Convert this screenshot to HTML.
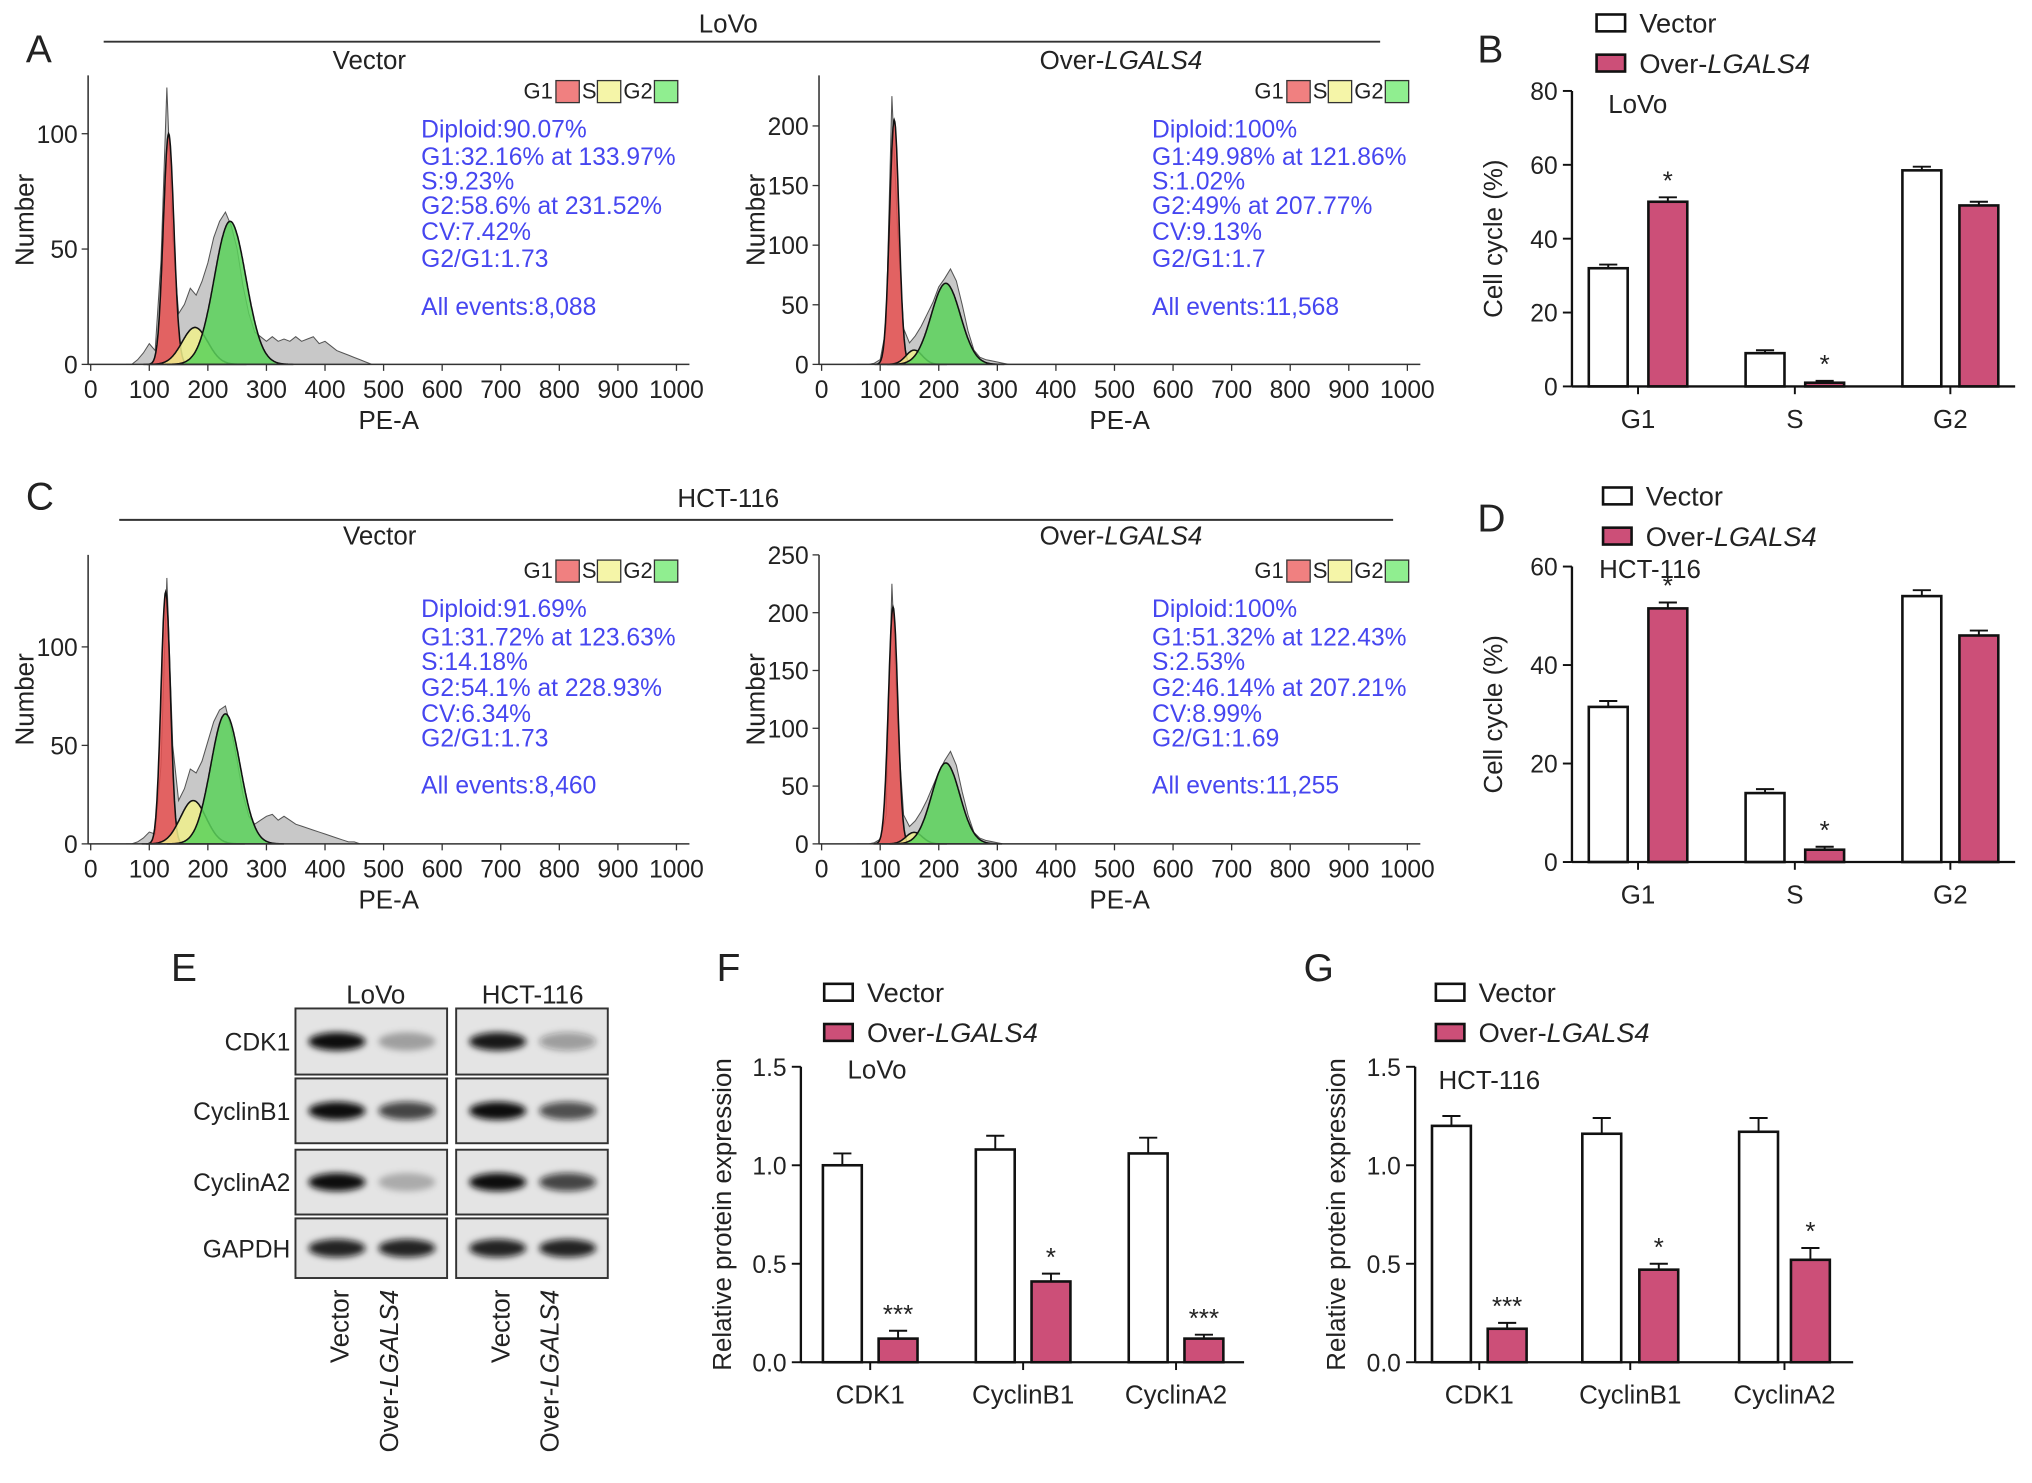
<!DOCTYPE html>
<html><head><meta charset="utf-8"><style>
html,body{margin:0;padding:0;background:#fff;}
svg{display:block;font-family:"Liberation Sans",sans-serif;}
</style></head><body>
<svg id="fig" width="2032" height="1483" viewBox="0 0 1568 1144" xmlns="http://www.w3.org/2000/svg">
<defs><filter id="blur" x="-50%" y="-50%" width="200%" height="200%"><feGaussianBlur stdDeviation="2.5"/></filter></defs>
<g id="root"></g>
</svg>
<script>
// ---------- data ----------
const histBins = [60,70,80,90,100,110,120,130,140,150,160,170,180,190,200,210,220,230,240,250,260,270,280,290,300,310,320,330,340,350,360,370,380,390,400,410,420,430,440,450,460,470,480,490,500];
const countsA1 = [0,0,2,5,9,6,45,120,55,22,26,33,30,36,44,55,62,66,60,50,34,22,14,12,10,12,10,11,10,12,10,11,12,9,10,8,6,5,4,3,2,1,0,0,0];
const countsA2 = [0,0,0,1,4,30,225,110,30,18,24,32,42,52,65,72,80,70,50,28,12,6,4,3,2,1,0,0,0,0,0,0,0,0,0,0,0,0,0,0,0,0,0,0,0];
const countsC1 = [0,0,1,3,6,5,40,135,50,22,28,38,36,42,52,62,68,70,58,42,25,14,10,12,14,15,12,14,12,10,9,8,7,6,5,4,3,2,1,1,0,0,0,0,0];
const countsC2 = [0,0,0,1,4,25,225,100,25,15,20,28,38,50,62,72,80,68,45,25,10,5,3,2,1,0,0,0,0,0,0,0,0,0,0,0,0,0,0,0,0,0,0,0,0];
const fitA1 = [[133,9,100],[178,22,16],[238,27,62]];
const fitA2 = [[124,8,205],[158,14,12],[212,25,68]];
const fitC1 = [[128,8,128],[175,22,22],[230,25,66]];
const fitC2 = [[122,8,205],[158,14,10],[212,24,70]];
const textA1 = ["Diploid:90.07%","G1:32.16% at 133.97%","S:9.23%","G2:58.6% at 231.52%","CV:7.42%","G2/G1:1.73","All events:8,088"];
const textA2 = ["Diploid:100%","G1:49.98% at 121.86%","S:1.02%","G2:49% at 207.77%","CV:9.13%","G2/G1:1.7","All events:11,568"];
const textC1 = ["Diploid:91.69%","G1:31.72% at 123.63%","S:14.18%","G2:54.1% at 228.93%","CV:6.34%","G2/G1:1.73","All events:8,460"];
const textC2 = ["Diploid:100%","G1:51.32% at 122.43%","S:2.53%","G2:46.14% at 207.21%","CV:8.99%","G2/G1:1.69","All events:11,255"];
const xTicks = [0,100,200,300,400,500,600,700,800,900,1000];

const cycleCats = ["G1","S","G2"];
const lovoVector = [32,9,58.5], lovoVectorErr=[1,0.8,1];
const lovoOver = [50,1,49], lovoOverErr=[1.2,0.5,1];
const hctVector = [31.5,14,54], hctVectorErr=[1.2,0.8,1.2];
const hctOver = [51.5,2.5,46], hctOverErr=[1.2,0.6,1];
const lovoStars = ["*","*",""];
const hctStars = ["*","*",""];
const protCats = ["CDK1","CyclinB1","CyclinA2"];
const fVector = [1.0,1.08,1.06], fVectorErr=[0.06,0.07,0.08];
const fOver = [0.12,0.41,0.12], fOverErr=[0.04,0.04,0.02];
const gVector = [1.2,1.16,1.17], gVectorErr=[0.05,0.08,0.07];
const gOver = [0.17,0.47,0.52], gOverErr=[0.03,0.03,0.06];
const fStars = ["***","*","***"], gStars = ["***","*","*"];
const blotRows = ["CDK1","CyclinB1","CyclinA2","GAPDH"];
const blotLoVo = [[1,0.3],[1,0.75],[1,0.25],[0.9,0.9]];
const blotHCT = [[0.95,0.35],[1,0.7],[1,0.75],[0.9,0.9]];

// ---------- helpers ----------
const NS="http://www.w3.org/2000/svg";
const root=document.getElementById('root');
function el(tag,attrs,parent,txt){const e=document.createElementNS(NS,tag);for(const k in attrs)e.setAttribute(k,attrs[k]);if(txt!==undefined)e.textContent=txt;(parent||root).appendChild(e);return e;}
function txt(x,y,s,size,opts,parent){opts=opts||{};const t=el('text',Object.assign({x:x,y:y,'font-size':size,fill:opts.fill||'#222','text-anchor':opts.anchor||'middle'},opts.extra||{}),parent,s);return t;}

function histogram(name,ox,oy,top,yMax,yStep,yPxPerUnit,counts,fit,lines,textY){
  const g=el('g',{});
  
  
  const xs=v=>ox+v*0.452, ys=v=>oy-v*yPxPerUnit;
  let d='M'+xs(histBins[0])+','+ys(0);
  histBins.forEach((b,i)=>{d+=' L'+xs(b)+','+ys(counts[i]);});
  d+=' L'+xs(histBins[histBins.length-1])+','+ys(0)+' Z';
  const h=el('path',{d:d,fill:'#c8c8c8',stroke:'#555','stroke-width':0.8},g);
  
  
  const cols=['rgba(230,80,80,0.85)','rgba(240,240,140,0.85)','rgba(90,210,90,0.85)'];
  const names=['g1-fit','s-fit','g2-fit'];
  fit.forEach((p,k)=>{
    let dd='M'+xs(p[0]-4*p[1])+','+ys(0);
    for(let v=p[0]-4*p[1];v<=p[0]+4*p[1];v+=1){dd+=' L'+xs(v).toFixed(1)+','+ys(p[2]*Math.exp(-0.5*((v-p[0])/p[1])**2)).toFixed(1);}
    dd+=' Z';
    const f=el('path',{d:dd,fill:cols[k],stroke:'#111','stroke-width':1.2},g);
    
    
  });
  el('line',{x1:ox-2,y1:oy,x2:ox+462,y2:oy,stroke:'#333','stroke-width':1.2},g);
  el('line',{x1:ox-2,y1:oy,x2:ox-2,y2:top,stroke:'#333','stroke-width':1.2},g);
  xTicks.forEach(t=>{el('line',{x1:xs(t),y1:oy,x2:xs(t),y2:oy+5,stroke:'#333'},g);const l=txt(xs(t),oy+26,String(t),19,{},g);});
  for(let v=0;v<=yMax;v+=yStep){el('line',{x1:ox-7,y1:ys(v),x2:ox-2,y2:ys(v),stroke:'#333'},g);const l=txt(ox-10,ys(v)+7,String(v),19,{anchor:'end'},g);}
  const xl=txt(ox+230,oy+50,'PE-A',20,{},g);
  const yl=txt(0,0,'Number',20,{extra:{transform:`translate(${ox-44},${(oy+top)/2}) rotate(-90)`}},g);
  const lg=el('g',{},g);
  const lx=ox+334, ly=top+12;
  txt(lx,ly+6,'G1',17,{anchor:'start'},lg);
  el('rect',{x:lx+25,y:ly-8,width:18,height:17,fill:'#f08080',stroke:'#333'},lg);
  txt(lx+45,ly+6,'S',17,{anchor:'start'},lg);
  el('rect',{x:lx+57,y:ly-8,width:18,height:17,fill:'#f5f5a8',stroke:'#333'},lg);
  txt(lx+77,ly+6,'G2',17,{anchor:'start'},lg);
  el('rect',{x:lx+101,y:ly-8,width:18,height:17,fill:'#90ee90',stroke:'#333'},lg);
  const st=el('g',{},g);
  lines.forEach((s,i)=>txt(ox+255,textY[i],s,19,{anchor:'start',fill:'#4646f0'},st));
}

function barChart(name,ox,oy,pxPerUnit,yMax,yStep,xEnd,cats,centersV,centersO,vv,ve,ov,oe,stars,yTitle,decimals){
  const g=el('g',{});
  
  
  const ys=v=>oy-v*pxPerUnit;
  const bw=30;
  cats.forEach((c,i)=>{
    [[centersV[i],vv[i],ve[i],'#fff','vector'],[centersO[i],ov[i],oe[i],'#cc4f78','over']].forEach(b=>{
      el('line',{x1:b[0],y1:ys(b[1]),x2:b[0],y2:ys(b[1]+b[2]),stroke:'#111','stroke-width':1.5},g);
      el('line',{x1:b[0]-7,y1:ys(b[1]+b[2]),x2:b[0]+7,y2:ys(b[1]+b[2]),stroke:'#111','stroke-width':1.5},g);
      const r=el('rect',{x:b[0]-bw/2,y:ys(b[1]),width:bw,height:oy-ys(b[1]),fill:b[3],stroke:'#111','stroke-width':2},g);
      
      
    });
    if(stars[i]){const s=txt(centersO[i],ys(ov[i]+oe[i])-6,stars[i],20,{},g);}
    const l=txt((centersV[i]+centersO[i])/2,oy+32,c,20,{},g);
    el('line',{x1:(centersV[i]+centersO[i])/2,y1:oy,x2:(centersV[i]+centersO[i])/2,y2:oy+6,stroke:'#111','stroke-width':1.5},g);
  });
  el('line',{x1:ox,y1:oy,x2:xEnd,y2:oy,stroke:'#111','stroke-width':1.8},g);
  el('line',{x1:ox,y1:oy,x2:ox,y2:ys(yMax),stroke:'#111','stroke-width':1.8},g);
  for(let v=0;v<=yMax+1e-9;v+=yStep){el('line',{x1:ox-7,y1:ys(v),x2:ox,y2:ys(v),stroke:'#111','stroke-width':1.5},g);
    const l=txt(ox-11,ys(v)+7,decimals?v.toFixed(1):String(v),19,{anchor:'end'},g);}
  const yl=txt(0,0,yTitle,20,{extra:{transform:`translate(${ox-54},${(oy+ys(yMax))/2}) rotate(-90)`}},g);
}
function legend(name,x,y){
  const g=el('g',{});
  el('rect',{x:x,y:y-7,width:22,height:13,fill:'#fff',stroke:'#111','stroke-width':2},g);
  txt(x+33,y+7,'Vector',21,{anchor:'start'},g);
  el('rect',{x:x,y:y+24,width:22,height:13,fill:'#cc4f78',stroke:'#111','stroke-width':2},g);
  const t=txt(x+33,y+38,'Over-',21,{anchor:'start'},g);
  el('tspan',{'font-style':'italic'},t,'LGALS4');
}
function label(s,x,y){const t=txt(x,y,s,30,{anchor:'start'});}
function title(s,x,y,italic){const t=txt(x,y,s,20);if(italic){t.textContent='Over-';el('tspan',{'font-style':'italic'},t,'LGALS4');}}

label('A',20,48);label('B',1140,48);label('C',20,393);label('D',1140,410);label('E',132,757);label('F',553,757);label('G',1006,757);
title('LoVo',562,25);el('line',{x1:80,y1:32,x2:1065,y2:32,stroke:'#333','stroke-width':1.5});
title('Vector',285,53);title('',865,53,true);
title('HCT-116',562,391);el('line',{x1:92,y1:401,x2:1075,y2:401,stroke:'#333','stroke-width':1.5});
title('Vector',293,420);title('',865,420,true);

const tyA=[106,127,146,165,185,206,243], tyC=[476,498,517,537,557,576,612];
histogram('histogram-lovo-vector',70,281,58,100,50,1.78,countsA1,fitA1,textA1,tyA);
histogram('histogram-lovo-over',634,281,58,200,50,0.92,countsA2,fitA2,textA2,tyA);
histogram('histogram-hct-vector',70,651,428,100,50,1.52,countsC1,fitC1,textC1,tyC);
histogram('histogram-hct-over',634,651,428,250,50,0.892,countsC2,fitC2,textC2,tyC);

legend('legend-b',1232,18);
barChart('chart-b-lovo',1213,298,2.85,80,20,1555,cycleCats,[1241,1362,1483],[1287,1408,1527],lovoVector,lovoVectorErr,lovoOver,lovoOverErr,lovoStars,'Cell cycle (%)');
txt(1241,87,'LoVo',20,{anchor:'start'});
legend('legend-d',1237,383);
barChart('chart-d-hct',1213,665,3.8,60,20,1555,cycleCats,[1241,1362,1483],[1287,1408,1527],hctVector,hctVectorErr,hctOver,hctOverErr,hctStars,'Cell cycle (%)');
txt(1234,446,'HCT-116',20,{anchor:'start'});

legend('legend-f',636,766);
barChart('chart-f-lovo',618,1051,152,1.5,0.5,960,protCats,[650,768,886],[693,811,929],fVector,fVectorErr,fOver,fOverErr,fStars,'Relative protein expression',true);
txt(654,832,'LoVo',20,{anchor:'start'});
legend('legend-g',1108,766);
barChart('chart-g-hct',1092,1051,152,1.5,0.5,1430,protCats,[1120,1236,1357],[1163,1280,1397],gVector,gVectorErr,gOver,gOverErr,gStars,'Relative protein expression',true);
txt(1110,840,'HCT-116',20,{anchor:'start'});

(function(){
  const g=el('g',{});
  txt(290,774,'LoVo',20,{},g);txt(411,774,'HCT-116',20,{},g);
  const rowsY=[[778,829],[832,882],[887,937],[940,986]];
  blotRows.forEach((r,i)=>{
    const l=txt(224,rowsY[i][0]+(rowsY[i][1]-rowsY[i][0])/2+7,r,19,{anchor:'end'},g);
    
    [[228,blotLoVo[i]],[352,blotHCT[i]]].forEach(b=>{
      el('rect',{x:b[0],y:rowsY[i][0],width:117,height:rowsY[i][1]-rowsY[i][0],fill:'#e4e4e4',stroke:'#333','stroke-width':1.5},g);
      const cy=(rowsY[i][0]+rowsY[i][1])/2;
      [[b[0]+32,b[1][0]],[b[0]+86,b[1][1]]].forEach(bd=>{
        el('ellipse',{cx:bd[0],cy:cy,rx:22,ry:7,fill:'#111','fill-opacity':bd[1],filter:'url(#blur)'},g);
      });
    });
  });
  [[262,'Vector'],[300,'Over-'],[386,'Vector'],[424,'Over-']].forEach(p=>{
    const t=txt(0,0,p[1],20,{anchor:'end',extra:{transform:`translate(${p[0]+7},995) rotate(-90)`}},g);
    if(p[1]==='Over-')el('tspan',{'font-style':'italic'},t,'LGALS4');
  });
})();
</script>
</body></html>
